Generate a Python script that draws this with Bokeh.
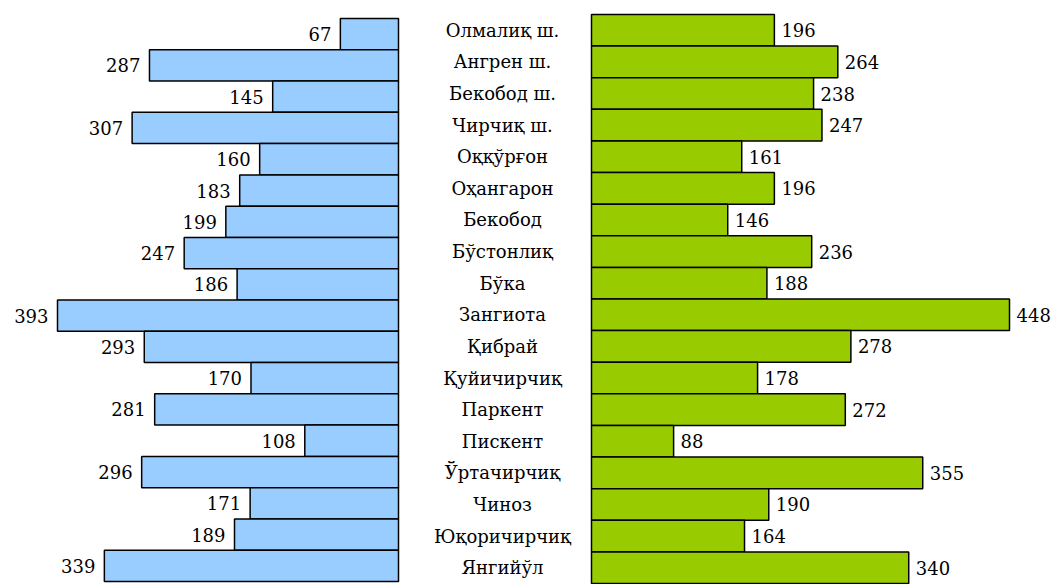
from bokeh.plotting import figure
from bokeh.models import Range1d, ColumnDataSource, Label
from bokeh.embed import file_html
from bokeh.resources import INLINE

districts = ["Олмалиқ ш.", "Ангрен ш.", "Бекобод ш.", "Чирчиқ ш.", "Оққўрғон",
             "Оҳангарон", "Бекобод", "Бўстонлиқ", "Бўка", "Зангиота", "Қибрай",
             "Қуйичирчиқ", "Паркент", "Пискент", "Ўртачирчиқ", "Чиноз",
             "Юқоричирчиқ", "Янгийўл"]
left_values = [67, 287, 145, 307, 160, 183, 199, 247, 186, 393, 293, 170, 281,
               108, 296, 171, 189, 339]
right_values = [196, 264, 238, 247, 161, 196, 146, 236, 188, 448, 278, 178, 272,
                88, 355, 190, 164, 340]

W, H = 1059, 584
FONT = "DejaVu Serif"
FS = "18px"

n = len(districts)
idx = list(range(n))

# x scales (pixel anchors in the frame)
r_zero, r_scale = 591.0, 418.0 / max(right_values)   # right panel
l_zero, l_scale = 398.0, 341.0 / max(left_values)    # left panel (reversed)

# y bands (pixel anchors)
r_top, r_band = 14.0, 569.0 / len(districts)
l_top, l_band = 18.0, 563.0 / len(districts)

p = figure(width=W, height=H, output_backend="svg", toolbar_location=None,
           min_border=0, outline_line_color=None,
           x_range=Range1d(-r_zero / r_scale, (W - r_zero) / r_scale),
           y_range=Range1d((H - r_top) / r_band - 0.5, -r_top / r_band - 0.5))
p.extra_x_ranges = {"left": Range1d(l_zero / l_scale, -(W - l_zero) / l_scale)}
p.extra_y_ranges = {"ly": Range1d((H - l_top) / l_band - 0.5, -l_top / l_band - 0.5)}
p.axis.visible = False
p.grid.visible = False
p.background_fill_color = "white"
p.border_fill_color = "white"

src = ColumnDataSource(dict(y=idx, lv=left_values, rv=right_values, zero=[0] * n))

# left bars
p.hbar(y="y", left="zero", right="lv", height=1.0, source=src,
       fill_color="#99CCFF", line_color="black", line_width=1.5,
       x_range_name="left", y_range_name="ly")
# right bars
p.hbar(y="y", left="zero", right="rv", height=1.0, source=src,
       fill_color="#99CC00", line_color="black", line_width=1.5)

label_x = (502.0 - r_zero) / r_scale
for i, (name, lv, rv) in enumerate(zip(districts, left_values, right_values)):
    p.add_layout(Label(x=lv, y=i, text=str(lv), x_offset=-9,
                       text_align="right", text_baseline="middle",
                       text_font=FONT, text_font_size=FS, text_color="black",
                       x_range_name="left", y_range_name="ly"))
    p.add_layout(Label(x=rv, y=i, text=str(rv), x_offset=7,
                       text_align="left", text_baseline="middle",
                       text_font=FONT, text_font_size=FS, text_color="black"))
    p.add_layout(Label(x=label_x, y=i, text=name,
                       text_align="center", text_baseline="middle",
                       text_font=FONT, text_font_size=FS, text_color="black"))

open("out.html", "w").write(file_html(p, INLINE))
